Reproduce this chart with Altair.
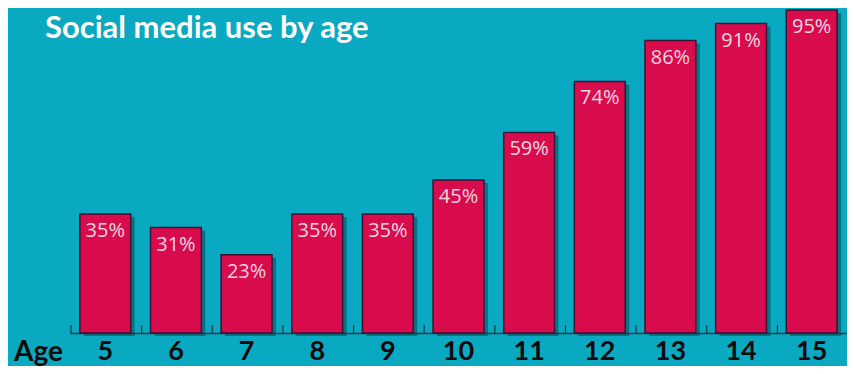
import altair as alt
import pandas as pd

ages = ["5", "6", "7", "8", "9", "10", "11", "12", "13", "14", "15"]
values = [35, 31, 23, 35, 35, 45, 59, 74, 86, 91, 95]
title_text = "Social media use by age"
axis_word = "Age"

df = pd.DataFrame({"age": ages, "value": values})
df["label"] = [f"{v}%" for v in values]

W, H = 777, 323
STEP = W / 11.0
TEAL = "#0AA9C2"
RED = "#D80B4C"

xenc = alt.X("age:N", sort=ages,
             scale=alt.Scale(paddingInner=0.28, paddingOuter=0.14),
             axis=alt.Axis(title=None, labelAngle=0, labelFont="Lato", labelFontWeight="bold",
                           labelFontSize=27, labelColor="#0b0b0b", labelPadding=5,
                           ticks=False, domainColor="#203a44", domainWidth=1.5, grid=False))
yenc = alt.Y("value:Q", scale=alt.Scale(domain=[0, 95], nice=False), axis=None)

base = alt.Chart(df)

shadow = base.mark_bar(color="#0b3b4a", opacity=0.5, xOffset=4, yOffset=3).encode(x=xenc, y=yenc)
bars = base.mark_bar(color=RED, stroke="#3a1430", strokeWidth=1.5).encode(x=xenc, y=yenc)
labels = base.mark_text(baseline="top", dy=7, font="Open Sans", fontSize=20,
                        color="#F8D6E0").encode(x=xenc, y=yenc, text="label:N")
ticks = base.mark_rule(color="#203a44", strokeWidth=1.2, xOffset=-STEP / 2 + 1).encode(
    x=alt.X("age:N", sort=ages), y=alt.value(H - 8), y2=alt.value(H))

title = alt.Chart(pd.DataFrame({"t": [title_text]})).mark_text(
    align="left", baseline="middle", font="Lato", fontWeight="bold", fontSize=31,
    color="#FFFFFF").encode(x=alt.value(-25), y=alt.value(19), text="t:N")
age_word = alt.Chart(pd.DataFrame({"t": [axis_word]})).mark_text(
    align="left", baseline="middle", font="Lato", fontWeight="bold", fontSize=28,
    color="#0b0b0b").encode(x=alt.value(-56), y=alt.value(H + 20), text="t:N")

chart = alt.layer(shadow, bars, labels, ticks, title, age_word).properties(
    width=W, height=H, background=TEAL,
    autosize=alt.AutoSizeParams(type="none"),
    padding={"left": 62, "top": 2, "right": 0, "bottom": 33},
).configure_view(stroke=None)

chart.save("out.html", embed_options={"renderer": "svg", "actions": False})
